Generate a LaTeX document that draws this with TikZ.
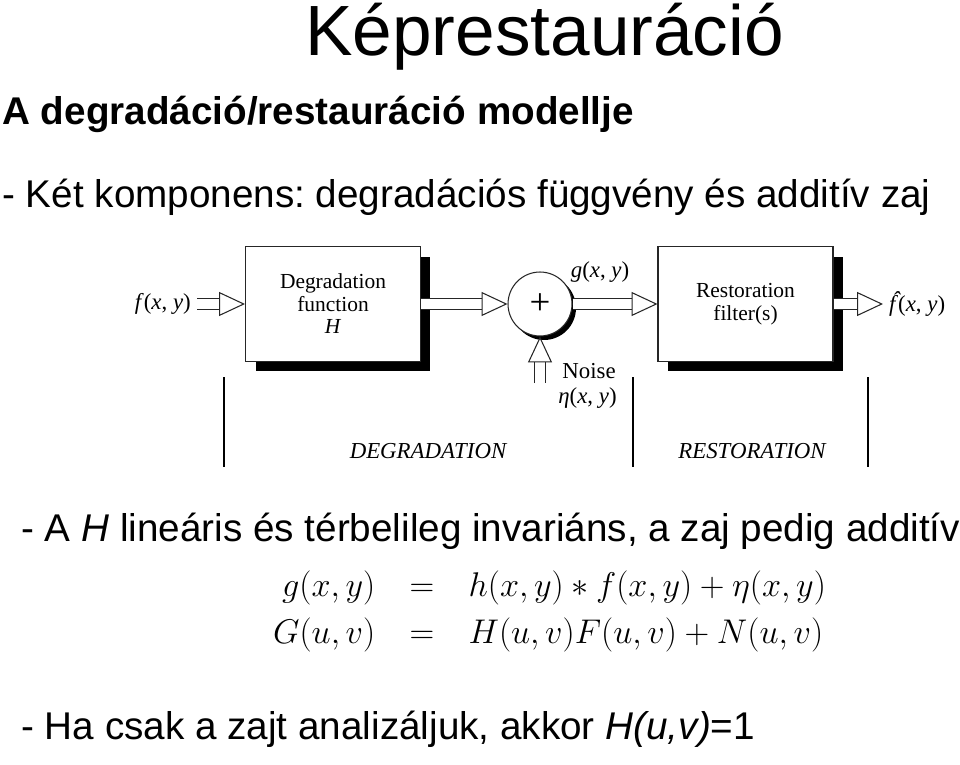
\RequirePackage{fix-cm}
\documentclass[tikz,border=0pt]{standalone}
\usepackage{amsmath}
\usepackage{fontspec}
\setmainfont{Liberation Sans}
\newfontfamily\figfont{Liberation Serif}
\usepackage{tikz}
\usetikzlibrary{arrows.meta,shadows}
\frenchspacing
\tikzset{
  block/.style={rectangle, draw=black!85, line width=0.6pt, fill=white, minimum width=3.5cm, minimum height=2.3cm, align=center, font=\figfont\fontsize{12.2}{12.8}\selectfont, drop shadow={shadow xshift=0.2cm, shadow yshift=-0.2cm, opacity=1, fill=black}},
  adder/.style={circle, draw=black!85, line width=0.6pt, fill=white, minimum size=1.28cm, inner sep=0pt, font=\figfont\fontsize{21}{21}\selectfont, drop shadow={shadow xshift=0.08cm, shadow yshift=-0.08cm, opacity=1, fill=black}},
  sig/.style={font=\figfont\fontsize{13}{13}\selectfont},
  hollow/.style={double=white, double distance=5.6pt, line width=0.6pt, draw=black!85, -{Triangle[length=14.7pt, width=13.6pt, fill=white, line width=0.6pt]}}, % block arrow with white body
  part/.style={font=\figfont\itshape\fontsize{13}{13}\selectfont},
  sep/.style={line width=0.8pt},
  slide/.style={inner sep=0pt, font=\fontsize{22}{22}\selectfont}
}

\begin{document}
\begin{tikzpicture}[x=0.02cm, y=-0.02cm]
  \useasboundingbox (0,0) rectangle (960,764);

  % Slide text
  \node[slide, anchor=base west, font=\fontsize{40.5}{40.5}\selectfont] (title) at (305,55) {Képrestauráció};
  \node[slide, anchor=base west, font=\bfseries\fontsize{22}{22}\selectfont] (head) at (2,124) {A degradáció/restauráció modellje};
  \node[slide, anchor=base west] (line1) at (2,207) {- Két komponens: degradációs függvény és additív zaj};

  % Blocks (nodes)
  \node[sig, anchor=east] (fin) at (197,304) {\textit{f}(\textit{x}, \textit{y})};
  \node[block] (deg) at (333,304) {Degradation\\function\\\textit{H}};
  \node[adder] (sum) at (540,304) {+};
  \node[block] (rest) at (745.5,304) {Restoration\\filter(s)};
  \node[sig, anchor=west] (fout) at (883,304) {\textit{\rlap{\hspace{0.14em}\raisebox{0.2em}{ˆ}}f}(\textit{x}, \textit{y})};
  \node[sig] (gsig) at (600,272) {\textit{g}(\textit{x}, \textit{y})};
  \node[sig, anchor=base west, inner sep=0pt] (noise) at (562,378) {Noise};
  \node[sig, anchor=base west, inner sep=0pt] (eta) at (558,403) {\textit{η}(\textit{x}, \textit{y})};
  \coordinate (ntail) at (540,383);

  % Signal flow (hollow block arrows)
  \draw[hollow] (fin) -- (deg);
  \draw[hollow] (deg) -- (sum);
  \draw[hollow] (sum) -- (rest);
  \draw[hollow] (rest) -- (fout);
  \draw[hollow] (ntail) -- (sum);

  % Degradation / restoration parts
  \draw[sep] (224,377) -- (224,467);
  \draw[sep] (633,377) -- (633,467);
  \draw[sep] (868,377) -- (868,467);
  \node[part] (degpart) at (428,451) {DEGRADATION};
  \node[part] (restpart) at (752,451) {RESTORATION};

  % Model
  \node[slide, anchor=base west] (line2) at (21,541) {- A \textit{H} lineáris és térbelileg invariáns, a zaj pedig additív};
  \node[inner sep=0pt, font=\fontsize{19.5}{26.6}\selectfont] (eqs) at (549.5,611)
    {\setlength{\arraycolsep}{0.5em}$\begin{array}{rcl}
      g(x,y) & = & h(x,y)\ast f(x,y)+\eta(x,y)\\
      G(u,v) & = & H(u,v)F(u,v)+N(u,v)
    \end{array}$};
  \node[slide, anchor=base west] (line3) at (21,739) {- Ha csak a zajt analizáljuk, akkor \textit{H(u,v)}=1};
\end{tikzpicture}
\end{document}
